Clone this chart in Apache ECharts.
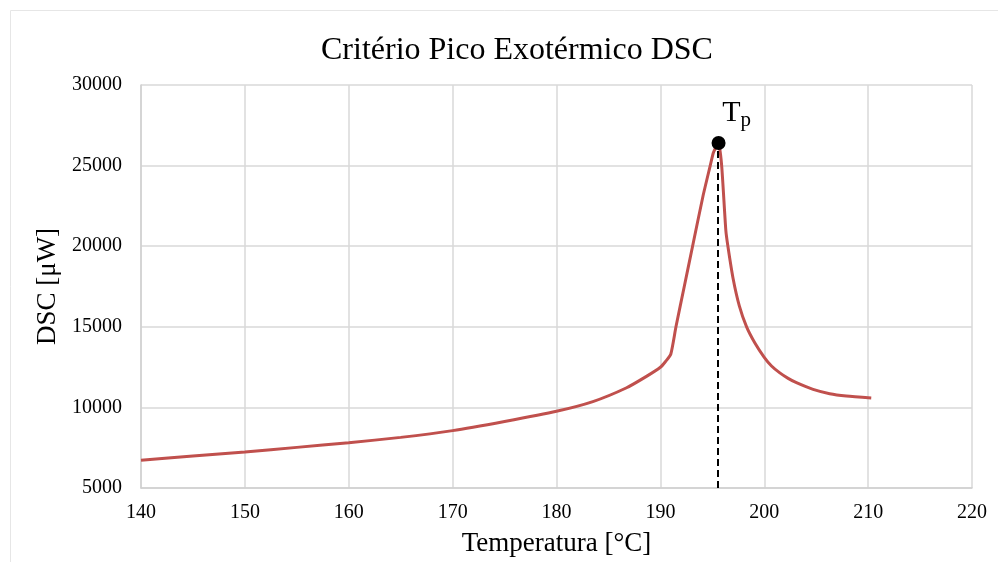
<!DOCTYPE html>
<html>
<head>
<meta charset="utf-8">
<title>Critério Pico Exotérmico DSC</title>
<script src="https://cdn.jsdelivr.net/npm/echarts@6/dist/echarts.min.js"></script>
<style>
	html, body { margin: 0; padding: 0; background: #fff; }
	#chart { width: 998px; height: 562px; }
</style>
</head>
<body>
<div id="chart"></div>
<script>
// temperatura [°C] e DSC [μW]
var temps = [140, 145, 150, 155, 160, 165, 170, 175, 180, 183.5, 186.75, 188.7, 190, 190.5, 191.0,
	191.5, 192.3, 193.1, 194.1, 194.8, 195.1, 195.4, 195.6,
	195.9, 196.3, 196.5, 197.0, 197.6, 198.3, 199.1, 200.0, 200.7, 201.5, 202.3, 203.1, 204.7, 206.3, 207.9, 210.3];
var dsc = [6720, 6980, 7240, 7520, 7810, 8140, 8560, 9130, 9760, 10360, 11220, 11940, 12490, 12850, 13300,
	15000, 17500, 20000, 23100, 25000, 25800, 26200, 26400,
	25000, 21000, 20000, 18000, 16300, 15000, 14000, 13110, 12570, 12140, 11800, 11530, 11115, 10850, 10710, 10585];

// pico exotérmico Tp
var peakT = 195.6;
var peakDsc = 26400;
var dashT = 195.5;

var xTicks = [140, 220, 10];
var yTicks = [5000, 30000, 5000];

function dscChart(id) {
	var myChart = echarts.init(document.getElementById(id));
	var serif = 'Liberation Serif';
	var curve = [];
	for (var i = 0; i < temps.length; i++) {
		curve.push([temps[i], dsc[i]]);
	}
	var option = {
		backgroundColor: '#fff',
		animation: false,
		graphic: [{
			type: 'rect',
			shape: { x: 10.5, y: 10.5, width: 1000, height: 560 },
			style: { fill: 'none', stroke: '#e6e6e6', lineWidth: 1 }
		}],
		title: {
			text: 'Critério Pico Exotérmico DSC',
			left: 316,
			top: 30,
			textStyle: { fontFamily: serif, fontSize: 32, fontWeight: 'normal', color: '#000' }
		},
		grid: { left: 141, right: 26, top: 85, bottom: 71 },
		xAxis: {
			type: 'value',
			min: xTicks[0],
			max: xTicks[1],
			interval: xTicks[2],
			name: 'Temperatura [°C]',
			nameLocation: 'middle',
			nameGap: 42,
			nameTextStyle: { fontFamily: serif, fontSize: 27, color: '#000' },
			axisLine: { lineStyle: { color: '#d0d0d0', width: 1.5 } },
			axisTick: { show: false },
			axisLabel: { fontFamily: serif, fontSize: 20, color: '#000', margin: 15 },
			splitLine: { show: true, lineStyle: { color: '#d9d9d9', width: 1.5 } }
		},
		yAxis: {
			type: 'value',
			min: yTicks[0],
			max: yTicks[1],
			interval: yTicks[2],
			name: 'DSC [μW]',
			nameLocation: 'middle',
			nameGap: 80,
			nameTextStyle: { fontFamily: serif, fontSize: 27, color: '#000' },
			axisLine: { show: true, lineStyle: { color: '#d0d0d0', width: 1.5 } },
			axisTick: { show: false },
			axisLabel: {
				fontFamily: serif, fontSize: 20, color: '#000', margin: 19,
				formatter: function (v) { return String(v); }
			},
			splitLine: { show: true, lineStyle: { color: '#d9d9d9', width: 1.5 } }
		},
		series: [{
			name: 'DSC',
			type: 'line',
			data: curve,
			smooth: 0.2,
			showSymbol: false,
			lineStyle: { color: '#C0504D', width: 3 },
			z: 3
		}, {
			name: 'Tp',
			type: 'scatter',
			data: [[peakT, peakDsc]],
			symbolSize: 14,
			itemStyle: { color: '#000', opacity: 1 },
			z: 5,
			label: {
				show: true,
				position: 'top',
				offset: [18, 0],
				formatter: '{t|T}{p|p}',
				rich: {
					t: { fontFamily: serif, fontSize: 30, color: '#000' },
					p: { fontFamily: serif, fontSize: 21, color: '#000', padding: [14, 0, 0, 0] }
				}
			},
			markLine: {
				silent: true,
				symbol: 'none',
				label: { show: false },
				lineStyle: { color: '#000', type: [7, 4], width: 2 },
				data: [[{ coord: [dashT, yTicks[0]] }, { coord: [dashT, peakDsc] }]]
			}
		}]
	};
	myChart.setOption(option);
}

dscChart('chart');
</script>
</body>
</html>
